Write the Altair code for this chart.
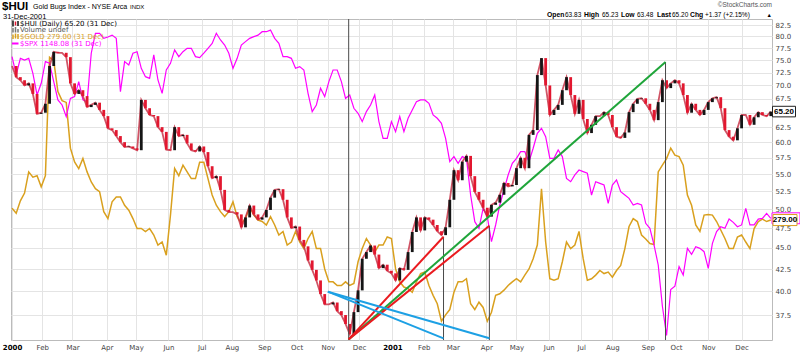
import altair as alt
import pandas as pd

# ------------------------------------------------------------------ data
# $HUI closes (read every 4 calendar days from 3 Jan 2000 to 31 Dec 2001)
hui_close = [
    73.8, 71.6, 71.0, 70.0, 70.4, 68.4, 64.8, 65.0, 66.6, 73.8,
    76.7, 76.5, 76.5, 75.6, 70.4, 68.4, 69.1, 68.0, 66.0, 66.4,
    66.8, 65.5, 64.4, 62.3, 62.0, 61.0, 60.0, 59.2, 59.3, 59.0,
    58.7, 67.3, 65.8, 64.6, 64.4, 62.5, 61.7, 58.8, 58.7, 62.5,
    61.0, 61.2, 59.8, 58.7, 58.5, 59.3, 58.4, 56.2, 54.4, 54.7,
    52.7, 49.9, 49.6, 49.6, 49.3, 47.6, 48.9, 50.5, 49.3, 48.6,
    48.9, 49.9, 51.6, 52.7, 52.8, 51.3, 48.9, 47.5, 47.7, 46.0,
    45.2, 43.5, 42.4, 41.2, 39.7, 38.6, 38.6, 38.8, 37.9, 37.5,
    36.6, 35.6, 37.8, 40.1, 43.7, 44.5, 45.3, 44.2, 42.6, 43.0,
    42.3, 42.0, 41.2, 42.6, 42.4, 44.5, 47.0, 48.9, 47.2, 48.9,
    48.6, 47.9, 47.1, 46.6, 47.6, 51.3, 55.6, 54.1, 56.9, 57.8,
    54.7, 52.4, 51.3, 50.2, 49.0, 50.6, 50.9, 52.0, 53.7, 53.2,
    53.4, 55.9, 57.5, 55.9, 61.2, 62.0, 72.0, 75.4, 70.0, 64.6,
    65.5, 66.4, 69.1, 71.6, 68.2, 64.8, 67.3, 63.9, 61.5, 62.9,
    64.4, 64.4, 65.1, 64.6, 62.5, 60.9, 60.7, 61.6, 65.1, 66.6,
    67.5, 67.6, 66.6, 65.5, 63.7, 66.9, 71.0, 69.5, 70.4, 71.0,
    70.4, 68.2, 65.0, 66.6, 65.5, 64.6, 65.5, 66.9, 67.6, 67.8,
    65.8, 62.0, 60.9, 60.3, 62.3, 64.6, 64.6, 62.9, 64.2, 65.1,
    64.6, 64.4, 65.2,
]

# $GOLD overlay (same dates)
gold_close = [
    281.4, 280.4, 282.9, 284.5, 288.9, 287.8, 288.1, 285.8, 288.1, 313.9,
    313.1, 306.2, 304.2, 303.8, 293.9, 291.0, 289.6, 291.7, 288.9, 286.8,
    285.4, 284.8, 280.7, 279.3, 282.7, 283.7, 283.7, 282.0, 281.0, 279.3,
    277.3, 277.3, 276.7, 277.3, 276.0, 274.0, 274.6, 272.0, 280.0, 289.6,
    288.1, 290.3, 288.9, 287.5, 287.5, 290.9, 290.9, 287.5, 284.1, 282.0,
    280.7, 279.7, 280.7, 282.7, 279.7, 278.3, 279.3, 281.7, 280.0, 279.0,
    278.7, 278.0, 279.7, 278.0, 276.0, 276.7, 274.0, 274.6, 276.7, 274.6,
    273.3, 275.3, 276.7, 273.3, 273.3, 269.3, 266.8, 266.8, 266.1, 266.1,
    266.8, 266.1, 266.5, 270.7, 273.3, 275.3, 274.0, 272.6, 274.0, 274.0,
    275.6, 275.3, 269.3, 266.8, 265.8, 265.5, 264.8, 266.8, 268.4, 268.7,
    266.1, 264.2, 262.6, 259.3, 260.5, 261.5, 264.8, 266.8, 266.8, 267.4,
    262.6, 261.5, 262.9, 261.9, 259.3, 261.0, 264.2, 264.5, 265.2, 266.1,
    266.8, 267.4, 266.8, 268.1, 269.3, 271.3, 274.0, 285.4, 274.6, 267.4,
    267.1, 267.4, 270.7, 274.6, 273.3, 274.0, 276.7, 271.3, 267.1, 267.4,
    268.1, 269.0, 268.4, 268.7, 267.7, 269.0, 270.0, 273.3, 277.7, 279.3,
    278.7, 276.0, 275.2, 274.3, 274.1, 288.9, 290.3, 291.7, 293.9, 292.4,
    292.1, 290.3, 284.1, 282.0, 278.0, 276.7, 280.0, 280.1, 280.0, 278.7,
    277.0, 275.3, 273.3, 273.3, 275.6, 276.0, 274.6, 273.3, 277.3, 278.7,
    279.2, 278.7, 279.0,
]

# $SPX overlay (same dates)
spx_close = [
    1452.8, 1414.5, 1449.2, 1445.7, 1449.2, 1418.0, 1373.9, 1397.4, 1442.2, 1438.7,
    1400.8, 1364.0, 1354.0, 1331.3, 1367.2, 1370.6, 1400.8, 1364.0, 1360.6, 1460.0,
    1503.0, 1503.0, 1492.0, 1495.0, 1499.0, 1492.0, 1380.6, 1442.2, 1435.2, 1460.0,
    1463.3, 1428.3, 1411.0, 1407.6, 1456.3, 1404.2, 1377.2, 1424.8, 1438.7, 1467.0,
    1452.8, 1463.3, 1470.5, 1470.5, 1452.8, 1450.6, 1460.0, 1470.5, 1481.0, 1503.0,
    1488.4, 1477.6, 1460.0, 1428.3, 1449.2, 1477.6, 1484.8, 1492.0, 1495.6, 1499.0,
    1506.5, 1506.5, 1510.0, 1492.0, 1481.0, 1452.8, 1452.8, 1449.2, 1428.3, 1431.8,
    1424.8, 1377.2, 1341.0, 1354.0, 1387.3, 1370.6, 1400.8, 1424.8, 1424.8, 1400.8,
    1367.2, 1373.9, 1347.5, 1337.8, 1321.6, 1341.0, 1354.0, 1373.9, 1321.6, 1289.8,
    1289.8, 1321.6, 1302.5, 1331.3, 1302.5, 1328.0, 1344.2, 1360.6, 1364.0, 1364.0,
    1357.3, 1334.5, 1328.0, 1318.4, 1289.8, 1246.8, 1256.0, 1243.8, 1256.0, 1252.8,
    1187.6, 1142.4, 1131.4, 1164.8, 1150.7, 1109.6, 1136.9, 1170.5, 1196.3, 1222.8,
    1243.8, 1252.8, 1265.0, 1265.0, 1246.8, 1271.3, 1299.3, 1308.8, 1293.0, 1252.8,
    1252.8, 1268.2, 1256.0, 1216.8, 1210.9, 1222.8, 1231.7, 1228.7, 1225.8, 1187.6,
    1210.9, 1208.0, 1205.0, 1173.3, 1205.0, 1213.9, 1193.4, 1187.6, 1181.9, 1170.5,
    1173.3, 1170.5, 1139.7, 1131.4, 1104.2, 1072.6, 1010.0, 968.0, 1035.0, 1040.0,
    1070.0, 1057.1, 1098.9, 1089.4, 1101.6, 1098.9, 1093.6, 1067.4, 1107.0, 1126.0,
    1134.0, 1131.4, 1146.8, 1141.3, 1134.0, 1137.0, 1164.8, 1137.0, 1137.0, 1146.8,
    1148.0, 1156.3, 1148.08,
]

dates = pd.date_range("2000-01-03", periods=len(hui_close), freq="4D")

hui_ticks = [37.5, 40.0, 42.5, 45.0, 47.5, 50.0, 52.5, 55.0, 57.5, 60.0,
             62.5, 65.0, 67.5, 70.0, 72.5, 75.0, 77.5, 80.0, 82.5]

# first trading day of each month (x-axis labels)
month_ticks = [
    (2000, 1, 3), (2000, 2, 1), (2000, 3, 1), (2000, 4, 3), (2000, 5, 1), (2000, 6, 1),
    (2000, 7, 3), (2000, 8, 1), (2000, 9, 1), (2000, 10, 2), (2000, 11, 1), (2000, 12, 1),
    (2001, 1, 2), (2001, 2, 1), (2001, 3, 1), (2001, 4, 2), (2001, 5, 1), (2001, 6, 1),
    (2001, 7, 2), (2001, 8, 1), (2001, 9, 4), (2001, 10, 1), (2001, 11, 1), (2001, 12, 3),
]

# hand-drawn trend lines (in $HUI units)
trend_names = ["green", "red1", "red2", "blue1", "blue2"]
trend_start_dates = ["2000-11-21", "2000-11-21", "2000-11-21", "2000-11-01", "2000-11-01"]
trend_start_vals = [35.1, 35.1, 35.1, 39.96, 39.96]
trend_end_dates = ["2001-09-21", "2001-02-20", "2001-04-05", "2001-02-20", "2001-04-05"]
trend_end_vals = [74.6, 46.4, 47.8, 35.2, 35.2]
trend_colors = ["#1fa53a", "#ea1a1f", "#ea1a1f", "#1da0e4", "#1da0e4"]

# vertical marker lines
marker_dates = ["2000-11-21", "2001-02-20", "2001-04-05", "2001-09-21"]
marker_tops = [83.86, 46.4, 47.8, 74.6]

HUI_DOM = [35.04, 83.86]
GOLD_DOM = [255.8, 322.7]
SPX_DOM = [961.6, 1534.6]

# ------------------------------------------------------------------ frames
df = pd.DataFrame({"date": dates, "hui": hui_close, "gold": gold_close, "spx": spx_close})
df["open"] = df["hui"].shift(1).fillna(df["hui"])
last = df.iloc[[-1]].copy()

tr_rows = []
for n, sd, sv, ed, ev in zip(trend_names, trend_start_dates, trend_start_vals,
                             trend_end_dates, trend_end_vals):
    tr_rows.append({"name": n, "date": pd.Timestamp(sd), "val": sv})
    tr_rows.append({"name": n, "date": pd.Timestamp(ed), "val": ev})
df_tr = pd.DataFrame(tr_rows)
df_mk = pd.DataFrame({"date": pd.to_datetime(marker_dates), "top": marker_tops})

# ------------------------------------------------------------------ scales / axes
W, H = 761, 321
AX_FONT = "DejaVu Sans"

xscale = alt.Scale(domain=[alt.DateTime(year=2000, month=1, date=2),
                           alt.DateTime(year=2002, month=1, date=1, hours=4)])
xaxis = alt.Axis(
    values=[alt.DateTime(year=y, month=m, date=d) for (y, m, d) in month_ticks],
    labelExpr="month(datum.value) == 0 ? timeFormat(datum.value, '%Y') : timeFormat(datum.value, '%b')",
    labelFontWeight={"condition": {"test": "month(datum.value) == 0", "value": "bold"}, "value": "normal"},
    labelColor={"condition": {"test": "month(datum.value) == 0", "value": "#000000"}, "value": "#444444"},
    labelFont=AX_FONT, labelFontSize=7, labelPadding=3,
    grid=True, gridColor="#e4e4e4", gridWidth=1,
    ticks=False, domain=False, title=None, labelOverlap=False, labelFlush=False,
)
X = alt.X("date:T", scale=xscale, axis=xaxis)

hui_scale = alt.Scale(type="log", domain=HUI_DOM, nice=False, zero=False)
gold_scale = alt.Scale(type="log", domain=GOLD_DOM, nice=False, zero=False)
spx_scale = alt.Scale(type="log", domain=SPX_DOM, nice=False, zero=False)

hui_axis = alt.Axis(orient="right", values=hui_ticks, grid=True,
                    labelExpr="datum.value == 65 ? '' : format(datum.value, '.1f')",
                    gridColor="#e4e4e4", ticks=False, domain=False, labelPadding=3,
                    labelFont=AX_FONT, labelFontSize=7, labelColor="#444444", title=None)

# ------------------------------------------------------------------ layers
gold_line = alt.Chart(df).mark_line(color="#d9a01e", strokeWidth=1.5, clip=True).encode(
    x=X, y=alt.Y("gold:Q", scale=gold_scale, axis=None))

spx_line = alt.Chart(df).mark_line(color="#ff00ff", strokeWidth=1.2, clip=True).encode(
    x=X, y=alt.Y("spx:Q", scale=spx_scale, axis=None))

hui_link = alt.Chart(df).mark_line(color="#c42a40", strokeWidth=1.8, opacity=0.8, clip=True).encode(
    x=X, y=alt.Y("hui:Q", scale=hui_scale, axis=None))

hui_bars = alt.Chart(df).mark_rule(strokeWidth=2.8, clip=True).encode(
    x=X,
    y=alt.Y("open:Q", scale=hui_scale, axis=hui_axis),
    y2="hui:Q",
    color=alt.condition("datum.hui >= datum.open", alt.value("#151515"), alt.value("#e2172f")),
)

markers = alt.Chart(df_mk).mark_rule(color="#4a4a4a", strokeWidth=1, clip=True).encode(
    x=X, y=alt.Y("top:Q", scale=hui_scale, axis=None), y2=alt.value(H))

trends = alt.Chart(df_tr).mark_line(strokeWidth=2, clip=True).encode(
    x=X, y=alt.Y("val:Q", scale=hui_scale, axis=None),
    color=alt.Color("name:N", scale=alt.Scale(domain=trend_names, range=trend_colors), legend=None),
    detail="name:N")


def box(h):
    return "M-1,-%s L1,-%s L1,%s L-1,%s Z" % (h, h, h, h)


spx_box = alt.Chart(last).mark_point(shape=box(0.39), size=784, filled=True, fill="white",
                                     stroke="#ff00ff", strokeWidth=1, opacity=1).encode(
    x=alt.value(775), y=alt.Y("spx:Q", scale=spx_scale, axis=None))
gold_box = alt.Chart(last).mark_point(shape=box(0.46), size=576, filled=True, fill="white",
                                      stroke="#d9a01e", strokeWidth=1, opacity=1).encode(
    x=alt.value(774), y=alt.Y("gold:Q", scale=gold_scale, axis=None))
gold_txt = alt.Chart(last).mark_text(font="Liberation Sans", fontSize=8, fontWeight="bold",
                                     color="#000000", align="center", baseline="middle").encode(
    x=alt.value(774), y=alt.Y("gold:Q", scale=gold_scale, axis=None),
    text=alt.Text("gold:Q", format=".2f"))
hui_box = alt.Chart(last).mark_point(shape=box(0.46), size=529, filled=True, fill="white",
                                     stroke="#222222", strokeWidth=1, opacity=1).encode(
    x=alt.value(773), y=alt.Y("hui:Q", scale=hui_scale, axis=None))
hui_txt = alt.Chart(last).mark_text(font="Liberation Sans", fontSize=8, fontWeight="bold",
                                    color="#000000", align="center", baseline="middle").encode(
    x=alt.value(773), y=alt.Y("hui:Q", scale=hui_scale, axis=None),
    text=alt.Text("hui:Q", format=".2f"))

# ------------------------------------------------------------------ texts
OX, OY = 11, 19  # plot origin inside the 800x352 canvas


def txt(s, cx, cy, size=8, color="#000000", weight="normal", align="left",
        font="Liberation Sans"):
    return alt.Chart(pd.DataFrame({"t": [s]})).mark_text(
        font=font, fontSize=size, fontWeight=weight, color=color, align=align,
        baseline="middle").encode(x=alt.value(cx - OX), y=alt.value(cy - OY), text="t:N")


def seg(x1, y1, x2, y2, color, w=1.0):
    return alt.Chart(pd.DataFrame({"a": [0]})).mark_rule(color=color, strokeWidth=w).encode(
        x=alt.value(x1 - OX), x2=alt.value(x2 - OX), y=alt.value(y1 - OY), y2=alt.value(y2 - OY))


texts = [
    txt("$HUI", 2, 6.5, size=11.5, weight="bold"),
    txt("Gold Bugs Index - NYSE Arca", 33, 7, size=7.1),
    txt("INDX", 130, 7, size=6),
    txt("31-Dec-2001", 3, 16.5, size=7.5),
    txt("\u00a9StockCharts.com", 772, 4.5, size=6.5, color="#555555", align="right"),
    txt("Open", 547, 15, size=6.8, weight="bold"),
    txt("63.83", 565, 15, size=6.5),
    txt("High", 584, 15, size=6.8, weight="bold"),
    txt("65.23", 602, 15, size=6.5),
    txt("Low", 621, 15, size=6.8, weight="bold"),
    txt("63.48", 637, 15, size=6.5),
    txt("Last", 657, 15, size=6.8, weight="bold"),
    txt("65.20", 672, 15, size=6.5),
    txt("Chg", 690, 15, size=6.8, weight="bold"),
    txt("+1.37 (+2.15%)", 705, 15, size=6.5),
    txt("\u25b2", 772, 15, size=5.5, align="right"),
    txt("$HUI (Daily) 65.20 (31 Dec)", 20, 23.5, size=7, font="DejaVu Sans"),
    txt("Volume undef", 20, 30, size=7, color="#555555", font="DejaVu Sans"),
    txt("$GOLD 279.00 (31 Dec)", 20, 36.8, size=7, color="#d9a01e", font="DejaVu Sans"),
    txt("$SPX 1148.08 (31 Dec)", 20, 43.5, size=7, color="#ff00ff", font="DejaVu Sans"),
    # legend glyphs
    seg(13, 20.5, 13, 26.5, "#111111", 1.5),
    seg(15.5, 21.5, 15.5, 25.5, "#e2172f", 1.5),
    seg(18, 21, 18, 26, "#111111", 1.5),
    seg(13, 28, 13, 32.5, "#777777", 1.5),
    seg(15.5, 27, 15.5, 32.5, "#777777", 1.5),
    seg(18, 29, 18, 32.5, "#777777", 1.5),
    seg(13, 34.5, 13, 39, "#d9a01e", 1.5),
    seg(15.5, 33.5, 15.5, 38.5, "#d9a01e", 1.5),
    seg(18, 34, 18, 39, "#d9a01e", 1.5),
    seg(12, 43.5, 18.5, 43.5, "#ff00ff", 2),
]

chart = alt.layer(
    gold_line, spx_line, hui_link, hui_bars, markers, trends,
    spx_box, gold_box, gold_txt, hui_box, hui_txt, *texts,
).resolve_scale(y="independent").properties(
    width=W, height=H,
    autosize=alt.AutoSizeParams(type="none"),
    padding={"left": OX, "top": OY, "right": 800 - OX - W, "bottom": 352 - OY - H},
    background="white",
).configure_view(stroke="#bbbbbb", strokeWidth=1)

chart.save("out.html", embed_options={"renderer": "svg", "actions": False})
